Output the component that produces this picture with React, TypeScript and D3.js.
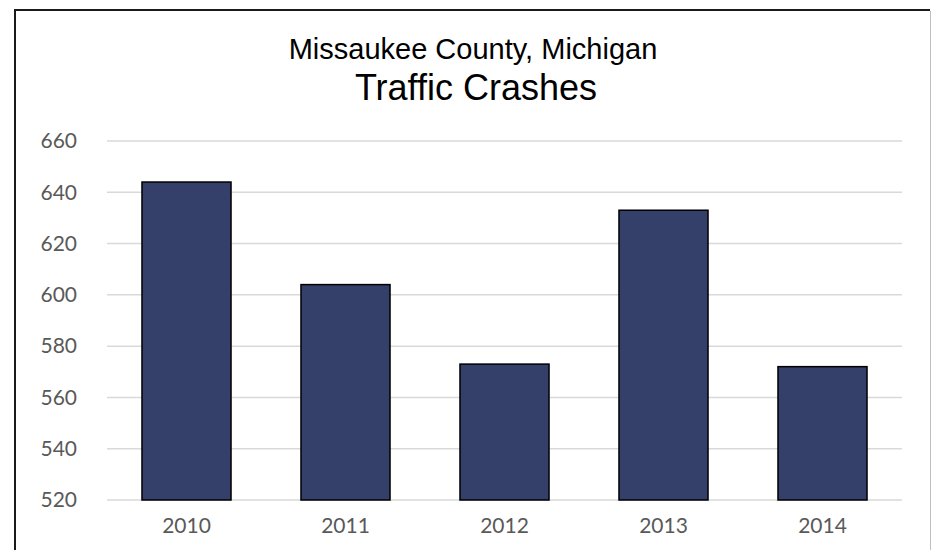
import React, { useRef, useEffect } from 'react';
import * as d3 from 'd3';

// chart data
const years: string[] = ['2010', '2011', '2012', '2013', '2014'];
const crashes: number[] = [644, 604, 573, 633, 572];
const yTicks: number[] = [520, 540, 560, 580, 600, 620, 640, 660];
const titleLines: string[] = ['Missaukee County, Michigan', 'Traffic Crashes'];

const App = () => {
    const svgRef = useRef<SVGSVGElement>(null);

    useEffect(() => {
        const svg = d3.select(svgRef.current);
        svg.selectAll('*').remove();

        const width = 931;
        const height = 550;
        const marginTop = 141;
        const marginRight = 29;
        const marginBottom = 50;
        const marginLeft = 107;

        const x = d3.scaleBand()
            .domain(years)
            .range([marginLeft, width - marginRight])
            .paddingInner(0.44)
            .paddingOuter(0.22);

        const y = d3.scaleLinear()
            .domain([520, 660])
            .range([height - marginBottom, marginTop]);

        svg
            .attr('width', width)
            .attr('height', height)
            .attr('viewBox', [0, 0, width, height]);

        svg.append('rect')
            .attr('width', width)
            .attr('height', height)
            .attr('fill', '#ffffff');

        // frame (left/top dark, right light)
        svg.append('line')
            .attr('x1', 15).attr('x2', 15).attr('y1', 10).attr('y2', height)
            .attr('stroke', '#1a1a1a').attr('stroke-width', 2);
        svg.append('line')
            .attr('x1', 14).attr('x2', 930).attr('y1', 10).attr('y2', 10)
            .attr('stroke', '#1a1a1a').attr('stroke-width', 2);
        svg.append('line')
            .attr('x1', 930.5).attr('x2', 930.5).attr('y1', 11).attr('y2', height)
            .attr('stroke', '#bfbfbf').attr('stroke-width', 1);

        // gridlines
        svg.append('g')
            .selectAll('line')
            .data(yTicks)
            .join('line')
            .attr('x1', marginLeft)
            .attr('x2', width - marginRight)
            .attr('y1', d => y(d))
            .attr('y2', d => y(d))
            .attr('stroke', '#d9d9d9')
            .attr('stroke-width', 1.5);

        // y labels
        svg.append('g')
            .selectAll('text')
            .data(yTicks)
            .join('text')
            .attr('x', 77)
            .attr('y', d => y(d))
            .attr('dy', '0.35em')
            .attr('text-anchor', 'end')
            .attr('fill', '#595959')
            .style('font', '21px Lato, sans-serif')
            .text(d => d);

        // bars
        svg.append('g')
            .selectAll('rect')
            .data(crashes)
            .join('rect')
            .attr('x', (d, i) => x(years[i]) as number)
            .attr('y', d => y(d))
            .attr('width', x.bandwidth())
            .attr('height', d => y(520) - y(d))
            .attr('fill', '#35406a')
            .attr('stroke', '#000000')
            .attr('stroke-width', 1.5);

        // x labels
        svg.append('g')
            .selectAll('text')
            .data(years)
            .join('text')
            .attr('x', d => (x(d) as number) + x.bandwidth() / 2)
            .attr('y', 533)
            .attr('text-anchor', 'middle')
            .attr('fill', '#595959')
            .style('font', '21px Lato, sans-serif')
            .text(d => d);

        // title
        svg.append('text')
            .attr('x', 473)
            .attr('y', 59)
            .attr('text-anchor', 'middle')
            .attr('fill', '#000000')
            .style('font', '29px "Liberation Sans Narrow", sans-serif')
            .text(titleLines[0]);

        svg.append('text')
            .attr('x', 476)
            .attr('y', 100)
            .attr('text-anchor', 'middle')
            .attr('fill', '#000000')
            .style('font', '36px "Liberation Sans Narrow", sans-serif')
            .text(titleLines[1]);
    }, []);

    return <svg ref={svgRef} style={{ position: 'absolute', left: 0, top: 0, display: 'block' }}></svg>;
};

export default App;
